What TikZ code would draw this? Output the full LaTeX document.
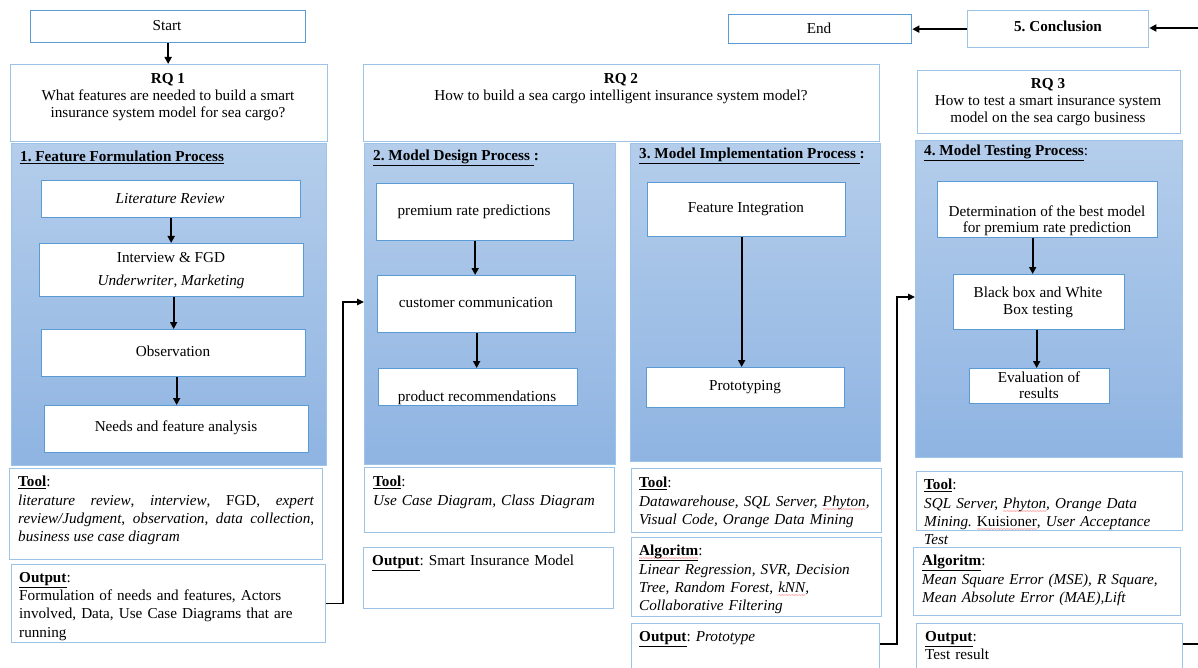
\documentclass[tikz,border=0pt]{standalone}
\usepackage{fontspec}
\setmainfont{Liberation Serif}
\usetikzlibrary{arrows.meta}

\definecolor{edgeLight}{HTML}{9DC3E6}
\definecolor{edgeMid}{HTML}{5B9BD5}
\definecolor{panelTop}{HTML}{B4CDEB}
\definecolor{panelBot}{HTML}{8FB4E2}

\newcommand\fs{\fontsize{15.2}{17}\selectfont\frenchspacing}
\newcommand\fsb{\fontsize{15.2}{18.3}\selectfont\frenchspacing\setlength{\parindent}{0pt}}
% red wavy spell-check mark under a word
\newcommand\spellmark[1]{\setbox0\hbox{#1}\rlap{\raisebox{-5pt}{\color{red}\hbox to \wd0{\xleaders\hbox{\fontsize{6}{6}\selectfont\textasciitilde}\hfill}}}\box0}
\newcommand\hd[1]{\underline{\textbf{#1}}}

\tikzset{
  frame/.style={draw=edgeLight, line width=1.3pt, fill=white, inner sep=0pt, anchor=north west},
  inbox/.style={draw=edgeMid, line width=1.3pt, fill=white, inner sep=0pt, anchor=north west},
  panel/.style={draw=edgeLight, line width=1.3pt, top color=panelTop, bottom color=panelBot, inner sep=0pt, anchor=north west},
  txt/.style={font=\fs, inner sep=0pt},
  para/.style={font=\fsb, inner sep=0pt, anchor=north west, align=left},
  flow/.style={-{Triangle[length=7pt,width=7pt]}, line width=2.1pt},
  link/.style={-{Triangle[length=7pt,width=6.5pt]}, line width=1.5pt},
}

\begin{document}
\begin{tikzpicture}[x=1pt,y=-1pt]
\fill[white] (0,0) rectangle (1198,668);
\useasboundingbox (0,0) rectangle (1198,668);

% start / end / conclusion
\node[inbox, minimum width=275, minimum height=32] (start) at (30,10) {};
\node[inbox, minimum width=183, minimum height=29] (endb) at (728,14) {};
\node[frame, minimum width=181, minimum height=37] (concl) at (967,10) {};
\node[txt] (tstart) at (167,26) {Start};
\node[txt] (tend) at (819,28) {End};
\node[txt] (tconcl) at (1058,26) {\textbf{5. Conclusion}};

% research questions
\node[frame, minimum width=317, minimum height=77] (rq1) at (10,64) {};
\node[frame, minimum width=516, minimum height=77] (rq2) at (363,64) {};
\node[frame, minimum width=263, minimum height=63] (rq3) at (917,70) {};
\node[txt, align=center] (trq1) at (168,97) {\textbf{RQ 1}\\What features are needed to build a smart\\insurance system model for sea cargo?};
\node[txt, align=center] (trq2) at (621,88.5) {\textbf{RQ 2}\\How to build a sea cargo intelligent insurance system model?};
\node[txt, align=center] (trq3) at (1048,102) {\textbf{RQ 3}\\How to test a smart insurance system\\model on the sea cargo business};

% process panels
\node[panel, minimum width=315, minimum height=322] (p1) at (11,143) {};
\node[panel, minimum width=251, minimum height=321] (p2) at (364,143) {};
\node[panel, minimum width=250, minimum height=318] (p3) at (630,143) {};
\node[panel, minimum width=267, minimum height=317] (p4) at (915,140) {};
\node[txt, anchor=west] (tp1) at (20,157) {\hd{1. Feature Formulation Process}};
\node[txt, anchor=west] (tp2) at (373,158) {\hd{2. Model Design Process }\textbf{:}};
\node[txt, anchor=west] (tp3) at (639,156) {\hd{3. Model Implementation Process }\textbf{:}};
\node[txt, anchor=west] (tp4) at (924,153) {\hd{4. Model Testing Process}:};

% panel 1 steps
\node[inbox, minimum width=259, minimum height=37] (lit) at (41,180) {};
\node[inbox, minimum width=264, minimum height=53] (intv) at (39,243) {};
\node[inbox, minimum width=264, minimum height=47] (obs) at (41,329) {};
\node[inbox, minimum width=264, minimum height=47] (needs) at (44,405) {};
\node[txt] (tlit) at (170,199) {\textit{Literature Review}};
\node[txt, align=center] (tintv) at (171,270.5) {Interview \& FGD\\[6pt]\textit{Underwriter}, \textit{Marketing}};
\node[txt] (tobs) at (173,351) {Observation};
\node[txt] (tneeds) at (176,428) {Needs and feature analysis};
\draw[flow] (lit.south) -- (lit.south |- intv.north);
\draw[flow] (obs.north |- intv.south) -- (obs.north);
\draw[flow] (needs.north |- obs.south) -- (needs.north);

% panel 2 steps
\node[inbox, minimum width=197, minimum height=57] (prem) at (376,183) {};
\node[inbox, minimum width=198, minimum height=57] (cust) at (377,275) {};
\node[inbox, minimum width=199, minimum height=37] (prod) at (378,368) {};
\node[txt] (tprem) at (474,212) {premium rate predictions};
\node[txt] (tcust) at (476,303) {customer communication};
\node[txt] (tprod) at (477,398) {product recommendations};
\draw[flow] (prem.south) -- (prem.south |- cust.north);
\draw[flow] (cust.south) -- (cust.south |- prod.north);

% panel 3 steps
\node[inbox, minimum width=198, minimum height=54] (feat) at (647,182) {};
\node[inbox, minimum width=198, minimum height=40] (proto) at (646,367) {};
\node[txt] (tfeat) at (746,209) {Feature Integration};
\node[txt] (tproto) at (745,387) {Prototyping};
\draw[flow] ([xshift=-5pt]feat.south) -- ([xshift=-4pt]proto.north);

% panel 4 steps
\node[inbox, minimum width=220, minimum height=56] (det) at (937,181) {};
\node[inbox, minimum width=171, minimum height=55] (bbox) at (953,274) {};
\node[inbox, minimum width=140, minimum height=35] (eval) at (969,368) {};
\node[txt, align=center, font=\fontsize{15.2}{16}\selectfont] (tdet) at (1047,220.5) {Determination of the best model\\for premium rate prediction};
\node[txt, align=center, font=\fontsize{15.2}{17}\selectfont] (tbbox) at (1038,302) {Black box and White\\Box testing};
\node[txt, align=center, font=\fontsize{15.2}{16}\selectfont] (teval) at (1039,385.5) {Evaluation of\\results};
\draw[flow] ([xshift=-15pt]det.south) -- ([xshift=-6.5pt]bbox.north);
\draw[flow] ([xshift=-2.5pt]bbox.south) -- ([xshift=-3pt]eval.north);

% tool / algorithm / output boxes
\node[frame, minimum width=313, minimum height=91] (tool1) at (9,468) {};
\node[frame, minimum width=314, minimum height=78] (out1) at (11,564) {};
\node[frame, minimum width=250, minimum height=65] (tool2) at (364,467) {};
\node[frame, minimum width=250, minimum height=61] (out2) at (363,547) {};
\node[frame, minimum width=250, minimum height=64] (tool3) at (631,468) {};
\node[frame, minimum width=250, minimum height=79] (alg3) at (631,537) {};
\node[frame, minimum width=248, minimum height=60] (out3) at (631,623) {};
\node[frame, minimum width=266, minimum height=59] (tool4) at (916,471) {};
\node[frame, minimum width=267, minimum height=68] (alg4) at (913,547) {};
\node[frame, minimum width=266, minimum height=60] (out4) at (916,623) {};

\node[para, text width=296, align=justify] (ttool1) at (18,476) {\hd{Tool}:\\
\textit{literature review}, \textit{interview}, FGD, \textit{expert}\linebreak
\textit{review/Judgment}, \textit{observation}, \textit{data collection},\linebreak
\textit{business use case diagram}};
\node[para, text width=302] (tout1) at (19,572) {\hd{Output}:\\Formulation of needs and features, Actors\\involved, Data, Use Case Diagrams that are\\running};
\node[para, text width=236] (ttool2) at (373,476) {\hd{Tool}:\\\textit{Use Case Diagram, Class Diagram}};
\node[para, text width=236] (tout2) at (372,555) {\hd{Output}: Smart Insurance Model};
\node[para, text width=240] (ttool3) at (639,477) {\hd{Tool}:\\\textit{Datawarehouse, SQL Server, \spellmark{Phyton},}\\\textit{Visual Code, Orange Data Mining}};
\node[para, text width=240] (talg3) at (639,545) {\spellmark{\hd{Algoritm}}:\\\textit{Linear Regression, SVR, Decision}\\\textit{Tree, Random Forest, \spellmark{kNN},}\\\textit{Collaborative Filtering}};
\node[para, text width=236] (tout3) at (639,631) {\hd{Output}: \textit{Prototype}};
\node[para, text width=256] (ttool4) at (924,479) {\hd{Tool}:\\\textit{SQL Server, \spellmark{Phyton}, Orange Data}\\\textit{Mining.} \spellmark{Kuisioner}, \textit{User Acceptance}\\\textit{Test}};
\node[para, text width=256] (talg4) at (922,555) {\hd{Algoritm}:\\\textit{Mean Square Error (MSE), R Square,}\\\textit{Mean Absolute Error (MAE),Lift}};
\node[para, text width=254] (tout4) at (925,631) {\hd{Output}:\\Test result};

% connectors
\draw[flow] (start.south) -- (start.south |- rq1.north);
\draw[flow] (concl.west) -- (concl.west -| endb.east);
\coordinate (rin) at (1198,28);
\draw[flow] (rin) -- (rin -| concl.east);

\coordinate (j1) at (343,302);
\draw[link] (out1.east) -| (j1) -- (j1 -| p2.west);
\coordinate (j2) at (897,297);
\draw[link] ([yshift=-21pt]out3.north east) -| (j2) -- (j2 -| p4.west);
\coordinate (rout) at (1198,644);
\draw[line width=1.5pt] ([yshift=-21pt]out4.north east) -- (rout);
\end{tikzpicture}
\end{document}
